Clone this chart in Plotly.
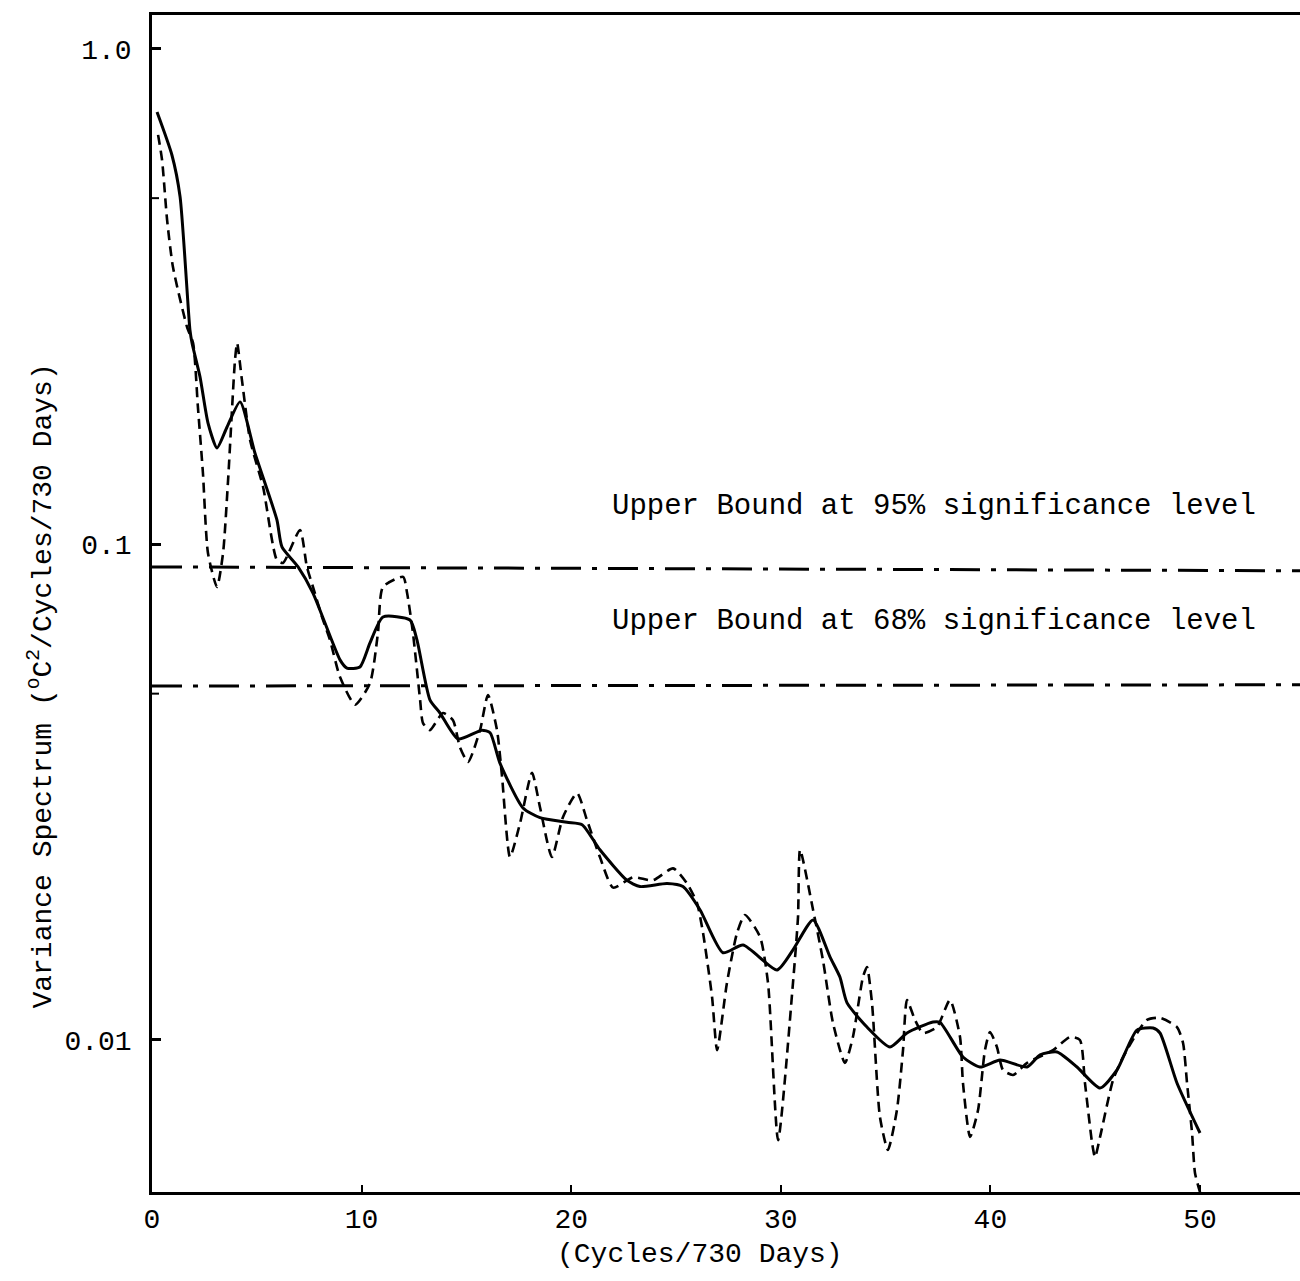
import plotly.graph_objects as go

# Smoothed spectrum (solid)
solid_x = [0.24, 0.95, 1.34, 1.81, 1.91, 2.29, 2.67, 3.10, 3.58, 4.20, 4.91, 5.96, 6.20, 6.97,
           7.68, 8.97, 9.30, 9.92, 10.40, 11.02, 12.31, 12.64, 13.26, 13.74, 14.60, 15.74, 16.13,
           16.60, 17.70, 18.51, 19.80, 20.52, 21.37, 22.66, 23.28, 24.57, 25.33, 26.15, 27.24,
           28.20, 29.82, 30.58, 31.54, 32.35, 32.82, 33.16, 34.11, 35.21, 36.02, 37.26, 37.60,
           38.69, 39.50, 40.46, 41.75, 42.37, 43.18, 44.13, 45.23, 46.04, 46.99, 47.76, 48.09,
           48.90, 50.00]
solid_y = [0.746, 0.611, 0.503, 0.271, 0.255, 0.218, 0.176, 0.1566, 0.1726, 0.194, 0.153, 0.1121,
           0.0989, 0.0901, 0.0798, 0.0585, 0.0563, 0.0566, 0.0633, 0.0714, 0.0704, 0.0642, 0.0486,
           0.0457, 0.0405, 0.0422, 0.0417, 0.0362, 0.0294, 0.0281, 0.0275, 0.0272, 0.0242, 0.0210,
           0.0204, 0.0207, 0.0204, 0.0183, 0.0150, 0.01555, 0.01385, 0.0152, 0.01747, 0.0147,
           0.0134, 0.01188, 0.01062, 0.00968, 0.01033, 0.01087, 0.01085, 0.00924, 0.00882, 0.00911,
           0.00882, 0.00933, 0.00946, 0.00882, 0.00800, 0.0087, 0.01047, 0.01057, 0.01033, 0.00819,
           0.00649]

# Raw spectrum (dashed)
dash_x = [0.29, 0.48, 0.72, 1.00, 1.67, 1.96, 2.19, 2.43, 2.67, 3.10, 3.39, 3.63, 3.96, 4.06,
          4.29, 4.68, 5.30, 5.96, 6.25, 7.06, 7.39, 7.68, 8.11, 8.49, 8.97, 9.69, 10.40, 10.78,
          11.02, 11.98, 12.17, 12.45, 12.79, 12.93, 13.26, 13.88, 14.36, 14.69, 15.08, 15.65,
          16.03, 16.46, 16.70, 17.08, 17.56, 18.13, 18.51, 19.08, 19.61, 20.28, 20.75, 21.37,
          22.00, 22.95, 23.90, 24.86, 25.52, 26.00, 26.29, 26.72, 26.96, 27.43, 27.91, 28.29,
          29.01, 29.39, 29.87, 30.58, 30.82, 30.92, 31.54, 32.01, 32.49, 33.06, 33.44, 33.92,
          34.11, 34.35, 34.73, 35.11, 35.54, 35.83, 36.02, 36.40, 36.78, 37.45, 38.07, 38.55,
          38.69, 39.03, 39.41, 39.74, 39.98, 40.31, 40.60, 41.08, 41.75, 42.99, 43.80, 44.27,
          44.51, 44.85, 44.99, 45.23, 45.85, 46.33, 47.47, 48.09, 48.90, 49.19, 49.38, 49.62,
          49.76, 50.00]
dash_y = [0.671, 0.597, 0.452, 0.363, 0.275, 0.255, 0.1895, 0.1394, 0.0961, 0.0821, 0.0961, 0.135,
          0.2357, 0.255, 0.2148, 0.1625, 0.1306, 0.0930, 0.0918, 0.107, 0.0901, 0.0821, 0.0714,
          0.0642, 0.054, 0.0475, 0.0525, 0.0663, 0.0821, 0.086, 0.0798, 0.0663, 0.0486, 0.0436,
          0.0422, 0.0457, 0.0442, 0.039, 0.0364, 0.0422, 0.0497, 0.0422, 0.034, 0.0234, 0.0274,
          0.0346, 0.0295, 0.0234, 0.0282, 0.0315, 0.0278, 0.0234, 0.0203, 0.0213, 0.0210, 0.0222,
          0.0207, 0.0189, 0.01644, 0.01221, 0.00954, 0.01303, 0.01644, 0.01788, 0.01614, 0.01303,
          0.00628, 0.01303, 0.0177, 0.0242, 0.0183, 0.0145, 0.01082, 0.00899, 0.01014, 0.0134,
          0.01404, 0.01188, 0.00699, 0.0060, 0.00722, 0.00954, 0.01204, 0.01098, 0.01033, 0.01062,
          0.01204, 0.01014, 0.00819, 0.00637, 0.00722, 0.00954, 0.01038, 0.00968, 0.0087, 0.0085,
          0.00899, 0.00954, 0.01014, 0.0100, 0.00819, 0.0062, 0.0058, 0.00637, 0.0083, 0.00924,
          0.01098, 0.01108, 0.01062, 0.00986, 0.00819, 0.00649, 0.00539, 0.00493]

# Significance bounds
bound_x = [0, 54.77]
bound95 = [0.0901, 0.0885]
bound68 = [0.0518, 0.0521]

x_ticks = [0, 10, 20, 30, 40, 50]
y_ticks = [0.01, 0.1, 1.0]
y_ticktext = ["0.01", "0.1", "1.0"]
y_minor = [0.05, 0.5]

FONT = "Liberation Mono"

fig = go.Figure()
fig.add_trace(go.Scatter(x=bound_x, y=bound95, mode="lines",
                         line=dict(color="black", width=3, dash="30px,11px,5px,11px")))
fig.add_trace(go.Scatter(x=bound_x, y=bound68, mode="lines",
                         line=dict(color="black", width=3, dash="30px,11px,5px,11px")))
fig.add_trace(go.Scatter(x=dash_x, y=dash_y, mode="lines",
                         line=dict(color="black", width=2.6, dash="10px,6px", shape="spline", smoothing=0.6)))
fig.add_trace(go.Scatter(x=solid_x, y=solid_y, mode="lines",
                         line=dict(color="black", width=3, shape="spline", smoothing=0.6)))

shapes = [dict(type="line", xref="paper", yref="y", x0=0, x1=7 / 1148, y0=v, y1=v,
               line=dict(color="black", width=2)) for v in y_minor]

fig.update_layout(
    width=1300, height=1281,
    margin=dict(l=152, r=0, t=15, b=89),
    paper_bgcolor="white", plot_bgcolor="white",
    showlegend=False,
    shapes=shapes,
    font=dict(family=FONT, size=28, color="black"),
    xaxis=dict(range=[0, 54.77], tickvals=x_ticks, ticks="inside", ticklen=7, tickwidth=2,
               tickcolor="black", showline=True, linecolor="black", linewidth=2.5, mirror=True,
               showgrid=False, zeroline=False, tickfont=dict(family=FONT, size=28)),
    yaxis=dict(type="log", range=[-2.3068, 0.0686], tickvals=y_ticks, ticktext=y_ticktext,
               ticks="inside", ticklen=9, tickwidth=3, tickcolor="black", showline=True,
               linecolor="black", linewidth=2.5, showgrid=False, zeroline=False,
               ticklabelstandoff=12, tickfont=dict(family=FONT, size=28)),
    annotations=[
        dict(text="Upper Bound at 95% significance level", x=0.6808, y=0.5828, xref="paper",
             yref="paper", showarrow=False, xanchor="center", yanchor="middle",
             font=dict(family=FONT, size=29)),
        dict(text="Upper Bound at 68% significance level", x=0.6808, y=0.4843, xref="paper",
             yref="paper", showarrow=False, xanchor="center", yanchor="middle",
             font=dict(family=FONT, size=29)),
        dict(text="(Cycles/730 Days)", x=0.4774, y=-0.0535, xref="paper", yref="paper",
             showarrow=False, xanchor="center", yanchor="middle", font=dict(family=FONT, size=28)),
        dict(text="Variance Spectrum (<sup>o</sup>C<sup>2</sup>/Cycles/730 Days)", x=-0.097, y=0.43,
             xref="paper", yref="paper", showarrow=False, xanchor="center", yanchor="middle",
             textangle=-90, font=dict(family=FONT, size=28)),
    ],
)

fig.write_html("out.html")
